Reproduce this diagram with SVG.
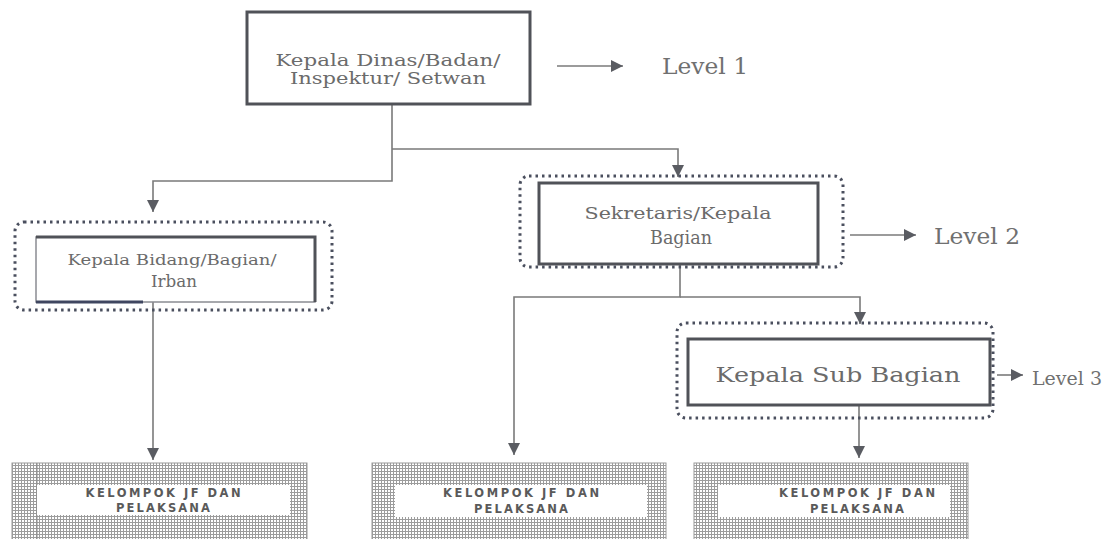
<svg xmlns="http://www.w3.org/2000/svg" width="1117" height="539" viewBox="0 0 1117 539">
  <style>
    .box { fill: #ffffff; stroke: #505258; stroke-width: 3; }
    .group-outline { fill: none; stroke: #4a4f5e; stroke-width: 3; stroke-dasharray: 2.5 4; }
    .link { fill: none; stroke: #7a7a7a; stroke-width: 1.6; }
    .title { font-family: "DejaVu Serif", "Liberation Serif", serif; fill: #6b6b6b; }
    .level { font-family: "DejaVu Serif", "Liberation Serif", serif; fill: #707070; }
    .jf { fill: url(#grid); stroke: #9a9a9a; stroke-width: 1; }
    .jf-label-bg { fill: #ffffff; }
    .jf-text { font-family: "DejaVu Sans", "Liberation Sans", sans-serif; font-weight: bold; font-size: 11.5px; fill: #5a5a5a; }
  </style>
  <defs>
    <marker id="arrow" viewBox="0 0 12 12" refX="12" refY="6" markerWidth="12" markerHeight="12" markerUnits="userSpaceOnUse" orient="auto">
      <path d="M0,0 L12,6 L0,12 Z" fill="#5a5c62"/>
    </marker>
    <pattern id="grid" width="3" height="3" patternUnits="userSpaceOnUse">
      <rect width="3" height="3" fill="#ffffff"/>
      <path d="M0,0.5 H3 M0.5,0 V3" stroke="#9c9c9c" stroke-width="1"/>
    </pattern>
  </defs>

  <rect width="1117" height="539" fill="#ffffff"/>

  <!-- connectors -->
  <g id="connectors">
    <path class="link" d="M392,104 V181 H153 V212" marker-end="url(#arrow)"/>
    <path class="link" d="M392,149 H678 V177" marker-end="url(#arrow)"/>
    <path class="link" d="M153,302 V460" marker-end="url(#arrow)"/>
    <path class="link" d="M680,265 V297 H514 V455" marker-end="url(#arrow)"/>
    <path class="link" d="M680,297 H860 V324" marker-end="url(#arrow)"/>
    <path class="link" d="M859,405 V458" marker-end="url(#arrow)"/>
    <!-- level pointers -->
    <path class="link" d="M557,66 H623" marker-end="url(#arrow)"/>
    <path class="link" d="M850,235 H916" marker-end="url(#arrow)"/>
    <path class="link" d="M997,375 H1023" marker-end="url(#arrow)"/>
  </g>

  <!-- level 1: head of office -->
  <g id="node-kepala-dinas">
    <rect class="box" x="247" y="12" width="283" height="92"/>
    <text class="title" font-size="17" text-anchor="middle" x="388" y="66" textLength="225" lengthAdjust="spacingAndGlyphs">Kepala Dinas/Badan/</text>
    <text class="title" font-size="17" text-anchor="middle" x="388" y="84" textLength="196" lengthAdjust="spacingAndGlyphs">Inspektur/ Setwan</text>
  </g>
  <g id="label-level-1">
    <text class="level" font-size="22" x="662" y="74" textLength="86" lengthAdjust="spacingAndGlyphs">Level 1</text>
  </g>

  <!-- level 2: field heads -->
  <g id="node-kepala-bidang">
    <rect class="group-outline" x="15" y="222" width="317" height="88" rx="9"/>
    <rect x="36" y="237" width="279" height="65" fill="#ffffff" stroke="#8a8c92" stroke-width="1.5"/>
    <path d="M36,237 H315 V302" fill="none" stroke="#505258" stroke-width="3"/>
    <path d="M36,302 H143" fill="none" stroke="#3f4660" stroke-width="3"/>
    <text class="title" font-size="15.5" text-anchor="middle" x="172" y="265" textLength="209" lengthAdjust="spacingAndGlyphs">Kepala Bidang/Bagian/</text>
    <text class="title" font-size="16" text-anchor="middle" x="174" y="287" textLength="46" lengthAdjust="spacingAndGlyphs">Irban</text>
  </g>

  <g id="node-sekretaris">
    <rect class="group-outline" x="520" y="176" width="323" height="91" rx="9"/>
    <rect class="box" x="539" y="183" width="279" height="81"/>
    <text class="title" font-size="17" text-anchor="middle" x="678" y="219" textLength="187" lengthAdjust="spacingAndGlyphs">Sekretaris/Kepala</text>
    <text class="title" font-size="18.5" text-anchor="middle" x="681" y="244" textLength="62" lengthAdjust="spacingAndGlyphs">Bagian</text>
  </g>
  <g id="label-level-2">
    <text class="level" font-size="22" x="934" y="244" textLength="86" lengthAdjust="spacingAndGlyphs">Level 2</text>
  </g>

  <!-- level 3: sub-section head -->
  <g id="node-kepala-sub-bagian">
    <rect class="group-outline" x="677" y="323" width="316" height="95" rx="9"/>
    <rect class="box" x="688" y="339" width="302" height="66" stroke="#4b5263"/>
    <text class="title" font-size="21" text-anchor="middle" x="838" y="382" textLength="245" lengthAdjust="spacingAndGlyphs">Kepala Sub Bagian</text>
  </g>
  <g id="label-level-3">
    <text class="level" font-size="18" x="1032" y="385" textLength="70" lengthAdjust="spacingAndGlyphs">Level 3</text>
  </g>

  <!-- functional groups and staff -->
  <g id="node-jf-bidang">
    <rect class="jf" x="12" y="463" width="295" height="80"/>
    <path d="M37,463 V539" stroke="#8a8a8a" stroke-width="1"/>
    <rect class="jf-label-bg" x="37" y="485" width="253" height="30"/>
    <text class="jf-text" text-anchor="middle" x="163" y="497" textLength="155" lengthAdjust="spacing">KELOMPOK JF DAN</text>
    <text class="jf-text" text-anchor="middle" x="163" y="512" textLength="94" lengthAdjust="spacing">PELAKSANA</text>
  </g>

  <g id="node-jf-sekretariat">
    <rect class="jf" x="372" y="463" width="294" height="80"/>
    <rect class="jf-label-bg" x="395" y="485" width="252" height="32"/>
    <text class="jf-text" text-anchor="middle" x="521" y="497" textLength="156" lengthAdjust="spacing">KELOMPOK JF DAN</text>
    <text class="jf-text" text-anchor="middle" x="521" y="513" textLength="94" lengthAdjust="spacing">PELAKSANA</text>
  </g>

  <g id="node-jf-sub-bagian">
    <rect class="jf" x="694" y="463" width="274" height="80"/>
    <rect class="jf-label-bg" x="718" y="485" width="232" height="32"/>
    <text class="jf-text" text-anchor="middle" x="857" y="497" textLength="156" lengthAdjust="spacing">KELOMPOK JF DAN</text>
    <text class="jf-text" text-anchor="middle" x="857" y="513" textLength="94" lengthAdjust="spacing">PELAKSANA</text>
  </g>
</svg>
